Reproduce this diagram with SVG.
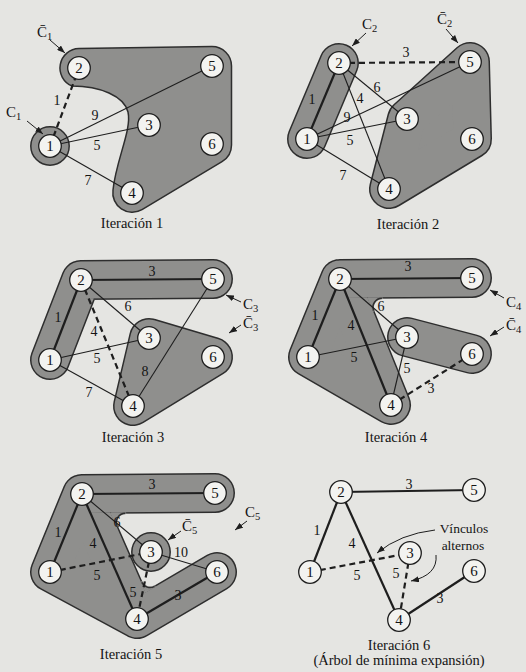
<svg xmlns="http://www.w3.org/2000/svg" width="526" height="672" viewBox="0 0 526 672" font-family="'Liberation Serif','DejaVu Serif',serif">
<defs>
<style>
.bg{fill:#e5e5e2}
.ro{fill:#2e2e2e;stroke:#2e2e2e;stroke-width:40;stroke-linejoin:round;stroke-linecap:round}
.ri{fill:#8f8f8d;stroke:#8f8f8d;stroke-width:37;stroke-linejoin:round;stroke-linecap:round}
.rp{fill:#8f8f8d;stroke:#2e2e2e;stroke-width:1.5}
.fp{fill:#8f8f8d;stroke:#8f8f8d;stroke-width:2;stroke-linejoin:round}
.fa{fill:none;stroke:#2e2e2e;stroke-width:1.5}
.t{stroke:#1e1e1e;stroke-width:1.1;fill:none}
.k{stroke:#1e1e1e;stroke-width:2.2;fill:none}
.d{stroke:#1e1e1e;stroke-width:2.2;fill:none;stroke-dasharray:6 4}
.n circle{fill:#f3f3f0;stroke:#1e1e1e;stroke-width:1.3}
.n text,.lb,.cap,.cl{font-family:"Liberation Serif","DejaVu Serif",serif;fill:#141414}
.n text{font-size:15px;text-anchor:middle}
.lb{font-size:14px;text-anchor:middle}
.cap{font-size:14.5px;text-anchor:middle}
.vl{font-size:13.5px}
.cl{font-size:15px}
.ar{stroke:#1e1e1e;stroke-width:1;fill:none;marker-end:url(#ah)}
</style>
<marker id="ah" viewBox="0 0 8 6" refX="8" refY="3" markerWidth="8" markerHeight="6" markerUnits="userSpaceOnUse" orient="auto"><path d="M0,0 L8,3 L0,6 z" fill="#1e1e1e"/></marker>
</defs>
<rect class="bg" x="0" y="0" width="526" height="672"/>

<!-- Panel 1 -->
<g id="p1">
<g id="p1-regions">
<circle cx="50" cy="146" r="19.2" class="rp"/>
<path class="rp" d="M79,48.5 L212,46.5 A19.5,19.5 0 0 1 231.5,66 L231.5,145 A19.5,19.5 0 0 1 222,161.7 L142,209.7 A19.5,19.5 0 0 1 113,190 C116,160 132,130 128,112 C124,96 100,86 72,86 A19.5,19.5 0 0 1 79,48.5 Z"/>
</g>
<g id="p1-connectors">
<line class="d" x1="50" y1="146" x2="79" y2="68"/>
<line class="t" x1="50" y1="146" x2="212" y2="66"/>
<line class="t" x1="50" y1="146" x2="149" y2="125"/>
<line class="t" x1="50" y1="146" x2="132" y2="193"/>
<text class="lb" x="57" y="105">1</text>
<text class="lb" x="95" y="120">9</text>
<text class="lb" x="97" y="150">5</text>
<text class="lb" x="88" y="185">7</text>
<path class="ar" d="M27,121 L43,134"/>
<path class="ar" d="M50,40 L65,53"/>
</g>
<g id="p1-n1" class="n"><circle cx="50" cy="146" r="11.3"/><text x="50" y="151">1</text></g>
<g id="p1-n2" class="n"><circle cx="79" cy="68" r="11.3"/><text x="79" y="73">2</text></g>
<g id="p1-n3" class="n"><circle cx="149" cy="125" r="11.3"/><text x="149" y="130">3</text></g>
<g id="p1-n4" class="n"><circle cx="132" cy="193" r="11.3"/><text x="132" y="198">4</text></g>
<g id="p1-n5" class="n"><circle cx="212" cy="66" r="11.3"/><text x="212" y="71">5</text></g>
<g id="p1-n6" class="n"><circle cx="212" cy="144" r="11.3"/><text x="212" y="149">6</text></g>
<text class="cl" x="6" y="117">C<tspan font-size="10.5" dy="3">1</tspan></text>
<text class="cl" x="37" y="37">C̄<tspan font-size="10.5" dy="3">1</tspan></text>
<text class="cap" x="132" y="228">Iteración 1</text>
</g>

<!-- Panel 2 -->
<g id="p2">
<g id="p2-regions">
<path class="ro" d="M307,139 L339,63"/>
<path class="ro" d="M470,62 L472,139 L389,189 L407,119 Z"/>
<path class="ri" d="M307,139 L339,63"/>
<path class="ri" d="M470,62 L472,139 L389,189 L407,119 Z"/>
</g>
<g id="p2-connectors">
<line class="k" x1="307" y1="139" x2="339" y2="63"/>
<line class="d" x1="339" y1="63" x2="470" y2="62"/>
<line class="t" x1="339" y1="63" x2="407" y2="119"/>
<line class="t" x1="339" y1="63" x2="389" y2="189"/>
<line class="t" x1="307" y1="139" x2="470" y2="62"/>
<line class="t" x1="307" y1="139" x2="407" y2="119"/>
<line class="t" x1="307" y1="139" x2="389" y2="189"/>
<text class="lb" x="406" y="57">3</text>
<text class="lb" x="312" y="104">1</text>
<text class="lb" x="377" y="92">6</text>
<text class="lb" x="360" y="103">4</text>
<text class="lb" x="347" y="122">9</text>
<text class="lb" x="350" y="145">5</text>
<text class="lb" x="343" y="180">7</text>
<path class="ar" d="M366,33 L352,46"/>
<path class="ar" d="M446,29 L458,43"/>
</g>
<g id="p2-n1" class="n"><circle cx="307" cy="139" r="11.3"/><text x="307" y="144">1</text></g>
<g id="p2-n2" class="n"><circle cx="339" cy="63" r="11.3"/><text x="339" y="68">2</text></g>
<g id="p2-n3" class="n"><circle cx="407" cy="119" r="11.3"/><text x="407" y="124">3</text></g>
<g id="p2-n4" class="n"><circle cx="389" cy="189" r="11.3"/><text x="389" y="194">4</text></g>
<g id="p2-n5" class="n"><circle cx="470" cy="62" r="11.3"/><text x="470" y="67">5</text></g>
<g id="p2-n6" class="n"><circle cx="472" cy="139" r="11.3"/><text x="472" y="144">6</text></g>
<text class="cl" x="362" y="29">C<tspan font-size="10.5" dy="3">2</tspan></text>
<text class="cl" x="437" y="24">C̄<tspan font-size="10.5" dy="3">2</tspan></text>
<text class="cap" x="408" y="229">Iteración 2</text>
</g>

<!-- Panel 3 -->
<g id="p3">
<g id="p3-regions">
<path class="ro" d="M50,360 L81,280 M81,280 L213,279"/>
<path class="ro" d="M149,338 L213,357 L133,406 Z"/>
<path class="ri" d="M50,360 L81,280 M81,280 L213,279"/>
<path class="ri" d="M149,338 L213,357 L133,406 Z"/>
</g>
<g id="p3-connectors">
<line class="k" x1="81" y1="280" x2="213" y2="279"/>
<line class="k" x1="50" y1="360" x2="81" y2="280"/>
<line class="t" x1="81" y1="280" x2="149" y2="338"/>
<line class="d" x1="81" y1="280" x2="133" y2="406"/>
<line class="t" x1="50" y1="360" x2="149" y2="338"/>
<line class="t" x1="50" y1="360" x2="133" y2="406"/>
<line class="t" x1="213" y1="279" x2="133" y2="406"/>
<text class="lb" x="152" y="276">3</text>
<text class="lb" x="58" y="322">1</text>
<text class="lb" x="128" y="311">6</text>
<text class="lb" x="94" y="336">4</text>
<text class="lb" x="97" y="363">5</text>
<text class="lb" x="145" y="376">8</text>
<text class="lb" x="89" y="397">7</text>
<path class="ar" d="M241,302 L226,295"/>
<path class="ar" d="M241,325 L229,333"/>
</g>
<g id="p3-n1" class="n"><circle cx="50" cy="360" r="11.3"/><text x="50" y="365">1</text></g>
<g id="p3-n2" class="n"><circle cx="81" cy="280" r="11.3"/><text x="81" y="285">2</text></g>
<g id="p3-n3" class="n"><circle cx="149" cy="338" r="11.3"/><text x="149" y="343">3</text></g>
<g id="p3-n4" class="n"><circle cx="133" cy="406" r="11.3"/><text x="133" y="411">4</text></g>
<g id="p3-n5" class="n"><circle cx="213" cy="279" r="11.3"/><text x="213" y="284">5</text></g>
<g id="p3-n6" class="n"><circle cx="213" cy="357" r="11.3"/><text x="213" y="362">6</text></g>
<text class="cl" x="243" y="309">C<tspan font-size="10.5" dy="3">3</tspan></text>
<text class="cl" x="243" y="328">C̄<tspan font-size="10.5" dy="3">3</tspan></text>
<text class="cap" x="133" y="442">Iteración 3</text>
</g>

<!-- Panel 4 -->
<g id="p4">
<g id="p4-regions">
<path class="ro" d="M472,278 L340,279 M340,279 L308,357 L391,405 Z"/>
<path class="ro" d="M407,337 L472,354"/>
<path class="ri" d="M472,278 L340,279 M340,279 L308,357 L391,405 Z"/>
<path class="ri" d="M407,337 L472,354"/>
<path class="fp" d="M368.6,298.3 L381.9,298.3 A9,9 0 0 0 373.6,310.6 Z"/>
<path class="fa" d="M381.9,298.3 A9,9 0 0 0 373.6,310.6"/>
</g>
<g id="p4-connectors">
<line class="k" x1="340" y1="279" x2="472" y2="278"/>
<line class="k" x1="340" y1="279" x2="308" y2="357"/>
<line class="k" x1="340" y1="279" x2="391" y2="405"/>
<line class="t" x1="340" y1="279" x2="407" y2="337"/>
<line class="t" x1="308" y1="357" x2="407" y2="337"/>
<line class="t" x1="407" y1="337" x2="391" y2="405"/>
<line class="d" x1="391" y1="405" x2="472" y2="354"/>
<text class="lb" x="408" y="271">3</text>
<text class="lb" x="315" y="320">1</text>
<text class="lb" x="351" y="330">4</text>
<text class="lb" x="381" y="311">6</text>
<text class="lb" x="354" y="362">5</text>
<text class="lb" x="407" y="373">5</text>
<text class="lb" x="431" y="393">3</text>
<path class="ar" d="M504,298 L490,290"/>
<path class="ar" d="M504,327 L490,336"/>
</g>
<g id="p4-n1" class="n"><circle cx="308" cy="357" r="11.3"/><text x="308" y="362">1</text></g>
<g id="p4-n2" class="n"><circle cx="340" cy="279" r="11.3"/><text x="340" y="284">2</text></g>
<g id="p4-n3" class="n"><circle cx="407" cy="337" r="11.3"/><text x="407" y="342">3</text></g>
<g id="p4-n4" class="n"><circle cx="391" cy="405" r="11.3"/><text x="391" y="410">4</text></g>
<g id="p4-n5" class="n"><circle cx="472" cy="278" r="11.3"/><text x="472" y="283">5</text></g>
<g id="p4-n6" class="n"><circle cx="472" cy="354" r="11.3"/><text x="472" y="359">6</text></g>
<text class="cl" x="506" y="307">C<tspan font-size="10.5" dy="3">4</tspan></text>
<text class="cl" x="506" y="330">C̄<tspan font-size="10.5" dy="3">4</tspan></text>
<text class="cap" x="396" y="442">Iteración 4</text>
</g>

<!-- Panel 5 -->
<g id="p5">
<g id="p5-regions">
<path class="ro" d="M215,493 L82,494 M82,494 L50,572 L137,619 Z M137,619 L217,572"/>
<circle cx="151" cy="552" r="19.2" class="rp"/>
<path class="ri" d="M215,493 L82,494 M82,494 L50,572 L137,619 Z M137,619 L217,572"/>
<path class="fp" d="M111.5,513.3 L125.3,513.3 A9,9 0 0 0 117.1,525.9 Z"/>
<path class="fa" d="M125.3,513.3 A9,9 0 0 0 117.1,525.9"/>
<path class="fp" d="M145.9,591.5 L141.8,582.2 A9,9 0 0 0 154.6,586.3 Z"/>
<path class="fa" d="M141.8,582.2 A9,9 0 0 0 154.6,586.3"/>
</g>
<g id="p5-connectors">
<line class="k" x1="82" y1="494" x2="215" y2="493"/>
<line class="k" x1="82" y1="494" x2="50" y2="572"/>
<line class="k" x1="82" y1="494" x2="137" y2="619"/>
<line class="k" x1="137" y1="619" x2="217" y2="572"/>
<line class="t" x1="82" y1="494" x2="151" y2="552"/>
<line class="t" x1="151" y1="552" x2="217" y2="572"/>
<line class="d" x1="50" y1="572" x2="151" y2="552"/>
<line class="d" x1="151" y1="552" x2="137" y2="619"/>
<text class="lb" x="152" y="489">3</text>
<text class="lb" x="58" y="537">1</text>
<text class="lb" x="93" y="548">4</text>
<text class="lb" x="117" y="527">6</text>
<text class="lb" x="97" y="580">5</text>
<text class="lb" x="133" y="597">5</text>
<text class="lb" x="181" y="557">10</text>
<text class="lb" x="178" y="600">3</text>
<path class="ar" d="M181,531 L168,540"/>
<path class="ar" d="M247,521 L235,530"/>
</g>
<g id="p5-n1" class="n"><circle cx="50" cy="572" r="11.3"/><text x="50" y="577">1</text></g>
<g id="p5-n2" class="n"><circle cx="82" cy="494" r="11.3"/><text x="82" y="499">2</text></g>
<g id="p5-n3" class="n"><circle cx="151" cy="552" r="11.3"/><text x="151" y="557">3</text></g>
<g id="p5-n4" class="n"><circle cx="137" cy="619" r="11.3"/><text x="137" y="624">4</text></g>
<g id="p5-n5" class="n"><circle cx="215" cy="493" r="11.3"/><text x="215" y="498">5</text></g>
<g id="p5-n6" class="n"><circle cx="217" cy="572" r="11.3"/><text x="217" y="577">6</text></g>
<text class="cl" x="182" y="531">C̄<tspan font-size="10.5" dy="3">5</tspan></text>
<text class="cl" x="245" y="517">C<tspan font-size="10.5" dy="3">5</tspan></text>
<text class="cap" x="131" y="659">Iteración 5</text>
</g>

<!-- Panel 6 -->
<g id="p6">
<g id="p6-connectors">
<line class="k" x1="341" y1="492" x2="474" y2="490"/>
<line class="k" x1="341" y1="492" x2="310" y2="572"/>
<line class="k" x1="341" y1="492" x2="399" y2="620"/>
<line class="k" x1="399" y1="620" x2="474" y2="571"/>
<line class="d" x1="310" y1="572" x2="410" y2="553"/>
<line class="d" x1="410" y1="553" x2="399" y2="620"/>
<text class="lb" x="409" y="489">3</text>
<text class="lb" x="317" y="535">1</text>
<text class="lb" x="352" y="548">4</text>
<text class="lb" x="357" y="580">5</text>
<text class="lb" x="396" y="578">5</text>
<text class="lb" x="440" y="603">3</text>
<path class="ar" d="M435,530 Q400,534 377,553"/>
<path class="ar" d="M436,555 Q438,575 411,581"/>
</g>
<g id="p6-n1" class="n"><circle cx="310" cy="572" r="11.3"/><text x="310" y="577">1</text></g>
<g id="p6-n2" class="n"><circle cx="341" cy="492" r="11.3"/><text x="341" y="497">2</text></g>
<g id="p6-n3" class="n"><circle cx="410" cy="553" r="11.3"/><text x="410" y="558">3</text></g>
<g id="p6-n4" class="n"><circle cx="399" cy="620" r="11.3"/><text x="399" y="625">4</text></g>
<g id="p6-n5" class="n"><circle cx="474" cy="490" r="11.3"/><text x="474" y="495">5</text></g>
<g id="p6-n6" class="n"><circle cx="474" cy="571" r="11.3"/><text x="474" y="576">6</text></g>
<text class="cap vl" x="464" y="533">Vínculos</text>
<text class="cap vl" x="463" y="550">alternos</text>
<text class="cap" x="399" y="650">Iteración 6</text>
<text class="cap" x="399" y="665">(Árbol de mínima expansión)</text>
</g>
</svg>
